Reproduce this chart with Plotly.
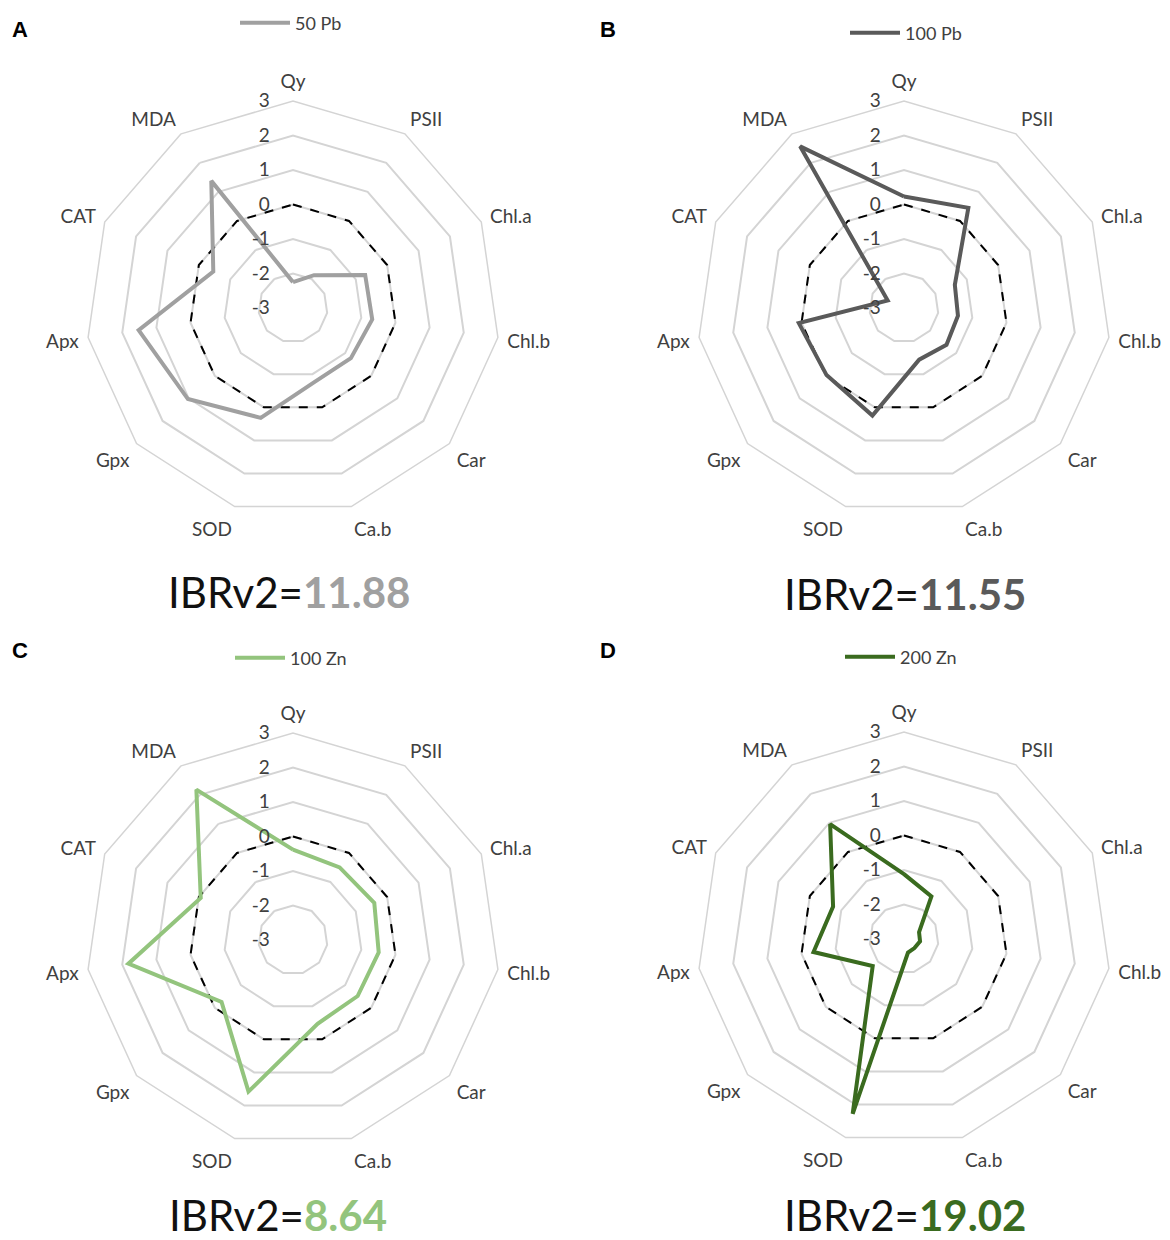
import plotly.graph_objects as go

categories = ["Qy", "PSII", "Chl.a", "Chl.b", "Car", "Ca.b", "SOD", "Gpx", "Apx", "CAT", "MDA"]
radial_ticks = [-3, -2, -1, 0, 1, 2, 3]
radial_ticktext = ["-3", "-2", "-1", "0", "1", "2", "3"]

pb50 = [-2.25, -1.87, -0.70, -0.68, -0.78, -0.77, 0.32, 1.03, 1.52, -0.46, 1.38]
pb100 = [0.23, 0.45, -1.38, -1.42, -1.37, -1.44, 0.25, -0.03, 0.08, -2.48, 2.57]
zn100 = [-0.38, -0.50, -0.41, -0.49, -0.52, -0.47, 1.58, -0.26, 1.82, -0.06, 2.18]
zn200 = [-1.12, -1.53, -2.52, -2.53, -2.60, -2.59, 2.28, -1.80, -0.35, -0.74, 0.96]
control = [0] * len(categories)

series_names = ["50 Pb", "100 Pb", "100 Zn", "200 Zn"]
series_values = [pb50, pb100, zn100, zn200]
series_colors = ["#a0a0a0", "#5a5a5a", "#93c47d", "#3a6b1f"]
ibr_values = ["11.88", "11.55", "8.64", "19.02"]
panel_letters = ["A", "B", "C", "D"]

W, H = 1170, 1240
R = 207
centers = [(293, 308), (904, 308), (293, 940), (904, 939)]
legend_pos = [(235, 23), (845, 33), (230, 658), (840, 657)]
ibr_pos = [(289, 592), (905, 594), (278, 1215), (905, 1215)]
letter_pos = [(20, 30), (608, 30), (20, 650), (608, 650)]

FONT = "Lato, 'Open Sans', sans-serif"
TXT = "#404040"
GRID = "#d4d4d4"

fig = go.Figure()
layout = dict(width=W, height=H, margin=dict(l=0, r=0, t=0, b=0),
              paper_bgcolor="white", plot_bgcolor="white",
              font=dict(family=FONT, color=TXT), annotations=[])

def close(v):
    return list(v) + [v[0]]

theta_closed = categories + [categories[0]]

for i in range(4):
    pid = "polar" if i == 0 else f"polar{i+1}"
    lid = "legend" if i == 0 else f"legend{i+1}"
    cx, cy = centers[i]
    layout[pid] = dict(
        domain=dict(x=[(cx - R) / W, (cx + R) / W],
                    y=[(H - cy - R) / H, (H - cy + R) / H]),
        bgcolor="white",
        gridshape="linear",
        radialaxis=dict(range=[-3, 3], tickmode="array", tickvals=radial_ticks,
                        ticktext=radial_ticktext, angle=90,
                        tickangle=90, side="counterclockwise",
                        showline=False, showgrid=True, gridcolor=GRID, gridwidth=1.5,
                        ticks="outside", ticklen=16, tickcolor="rgba(0,0,0,0)",
                        tickfont=dict(size=19, color=TXT, family=FONT)),
        angularaxis=dict(type="category", categoryarray=categories,
                         rotation=90, direction="clockwise",
                         showgrid=False, showline=True, linecolor=GRID, linewidth=1.5,
                         ticks="outside", ticklen=5, tickcolor="rgba(0,0,0,0)",
                         tickfont=dict(size=19, color=TXT, family=FONT)),
    )
    sub = "polar" if i == 0 else f"polar{i+1}"
    fig.add_trace(go.Scatterpolar(r=close(control), theta=theta_closed, mode="lines",
                                  line=dict(color="black", width=2, dash="dash"),
                                  subplot=sub, showlegend=False, legend=lid))
    fig.add_trace(go.Scatterpolar(r=close(series_values[i]), theta=theta_closed, mode="lines",
                                  line=dict(color=series_colors[i], width=4),
                                  name=series_names[i], subplot=sub, showlegend=True,
                                  legend=lid))
    lx, ly = legend_pos[i]
    layout[lid] = dict(x=lx / W, y=1 - ly / H, xanchor="left", yanchor="middle",
                       orientation="h", bgcolor="rgba(0,0,0,0)",
                       font=dict(size=18, color=TXT, family=FONT),
                       itemwidth=50, tracegroupgap=0)
    ix, iy = ibr_pos[i]
    layout["annotations"].append(dict(
        x=ix / W, y=1 - iy / H, xref="paper", yref="paper", xanchor="center", yanchor="middle",
        showarrow=False,
        text=f"IBRv2=<b><span style='color:{series_colors[i]}'>{ibr_values[i]}</span></b>",
        font=dict(size=42, color="#111111", family=FONT)))
    tx, ty = letter_pos[i]
    layout["annotations"].append(dict(
        x=tx / W, y=1 - ty / H, xref="paper", yref="paper", xanchor="center", yanchor="middle",
        showarrow=False, text=f"<b>{panel_letters[i]}</b>",
        font=dict(size=22, color="black", family="Liberation Sans, Arial, sans-serif")))

fig.update_layout(**layout)
fig.write_html("out.html")
